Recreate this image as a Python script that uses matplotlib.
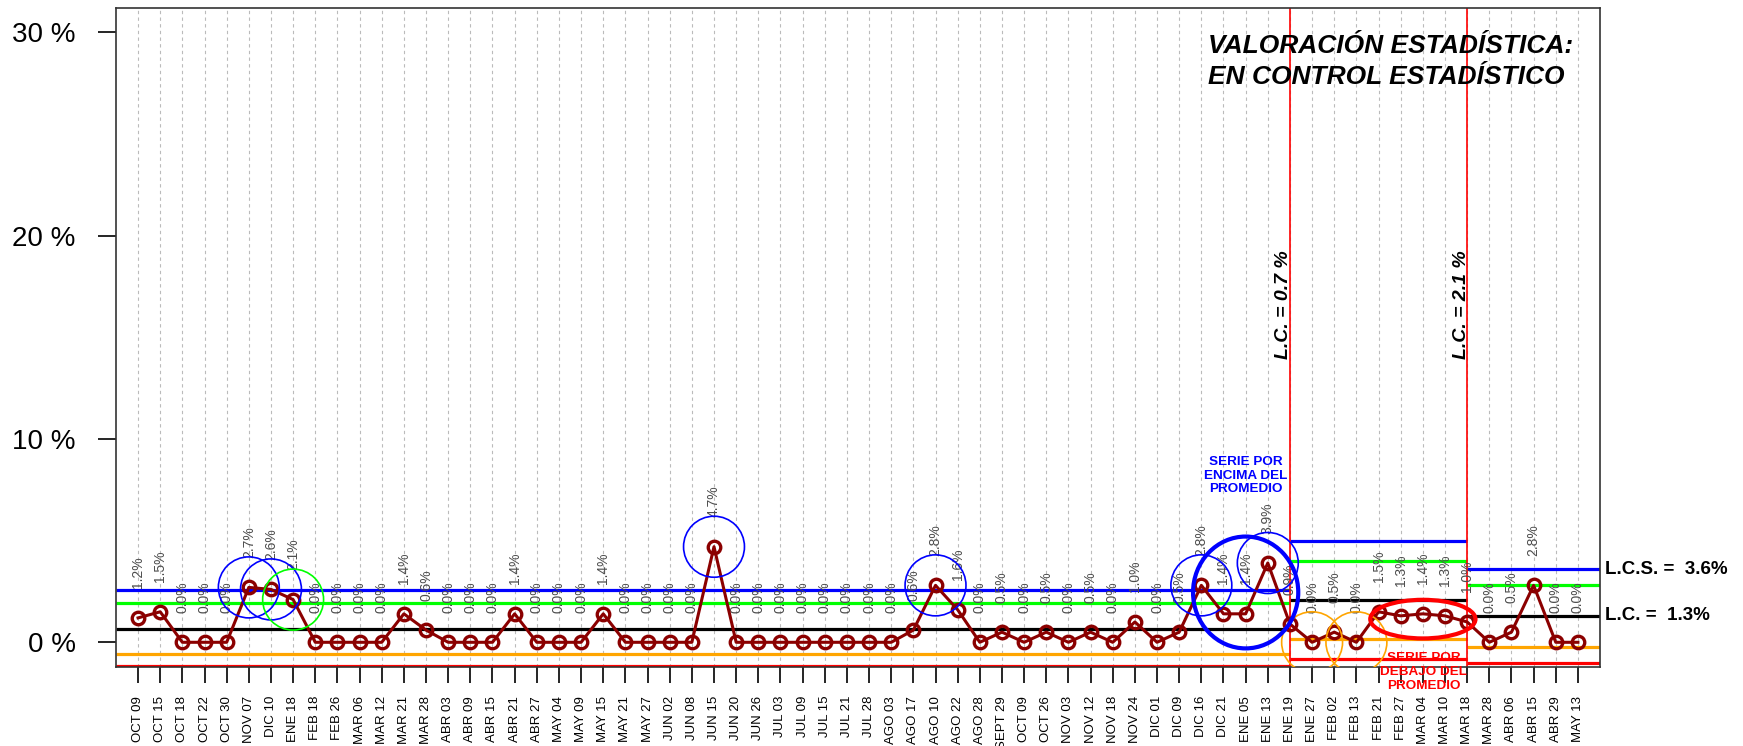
import numpy as np
import matplotlib.pyplot as plt
from matplotlib.patches import Ellipse
from matplotlib.transforms import blended_transform_factory

plt.rcParams['font.family'] = ['Liberation Sans', 'DejaVu Sans']

# datos de la serie
fechas = ['OCT 09', 'OCT 15', 'OCT 18', 'OCT 22', 'OCT 30', 'NOV 07', 'DIC 10', 'ENE 18',
          'FEB 18', 'FEB 26', 'MAR 06', 'MAR 12', 'MAR 21', 'MAR 28', 'ABR 03', 'ABR 09',
          'ABR 15', 'ABR 21', 'ABR 27', 'MAY 04', 'MAY 09', 'MAY 15', 'MAY 21', 'MAY 27',
          'JUN 02', 'JUN 08', 'JUN 15', 'JUN 20', 'JUN 26', 'JUL 03', 'JUL 09', 'JUL 15',
          'JUL 21', 'JUL 28', 'AGO 03', 'AGO 17', 'AGO 10', 'AGO 22', 'AGO 28', 'SEPT 29',
          'OCT 09', 'OCT 26', 'NOV 03', 'NOV 12', 'NOV 18', 'NOV 24', 'DIC 01', 'DIC 09',
          'DIC 16', 'DIC 21', 'ENE 05', 'ENE 13', 'ENE 19', 'ENE 27', 'FEB 02', 'FEB 13',
          'FEB 21', 'FEB 27', 'MAR 04', 'MAR 10', 'MAR 18', 'MAR 28', 'ABR 06', 'ABR 15',
          'ABR 29', 'MAY 13']
valores = [1.2, 1.5, 0.0, 0.0, 0.0, 2.7, 2.6, 2.1,
           0.0, 0.0, 0.0, 0.0, 1.4, 0.6, 0.0, 0.0,
           0.0, 1.4, 0.0, 0.0, 0.0, 1.4, 0.0, 0.0,
           0.0, 0.0, 4.7, 0.0, 0.0, 0.0, 0.0, 0.0,
           0.0, 0.0, 0.0, 0.6, 2.8, 1.6, 0.0, 0.5,
           0.0, 0.5, 0.0, 0.5, 0.0, 1.0, 0.0, 0.5,
           2.8, 1.4, 1.4, 3.9, 0.9, 0.0, 0.5, 0.0,
           1.5, 1.3, 1.4, 1.3, 1.0, 0.0, 0.5, 2.8,
           0.0, 0.0]

# limites por fase (inicio, fin en posicion del eje x)
fase_ini = [-1, 52, 60]
fase_fin = [52, 60, 66]
lc = [0.65, 2.08, 1.3]
lcs = [2.55, 4.98, 3.6]
sup2 = [1.92, 4.02, 2.83]
inf2 = [-0.56, 0.15, -0.22]
lci = [-1.18, -0.8, -1.0]
lc_texto = ['L.C. = 0.7 %', 'L.C. = 2.1 %']

# puntos señalados con circulos
circ_azul = [5, 6, 26, 36, 48, 51]
circ_verde = [7]
circ_naranja = [53, 55]

x = np.arange(len(valores))
y = np.array(valores)

fig = plt.figure(figsize=(17.43, 7.46), dpi=100)
ax = fig.add_axes([0.0665, 0.1063, 0.8515, 0.8832])

# rejilla vertical punteada
for xi in x:
    ax.axvline(xi, color='#bbbbbb', lw=0.8, ls=(0, (3, 3)), zorder=0)

# lineas de control por fase
for i in range(3):
    a, b = fase_ini[i], fase_fin[i]
    ax.hlines(lcs[i], a, b, color='#0000ff', lw=2.3, zorder=2)
    ax.hlines(sup2[i], a, b, color='#00ff00', lw=2.3, zorder=2)
    ax.hlines(lc[i], a, b, color='black', lw=2.3, zorder=2)
    ax.hlines(inf2[i], a, b, color='#ffa500', lw=2.3, zorder=2)
    ax.hlines(lci[i], a, b, color='#ff0000', lw=2.3, zorder=2)

# cambios de fase
for xv in fase_ini[1:]:
    ax.axvline(xv, color='#ff0000', lw=1.2, zorder=2)

# serie
ax.plot(x, y, color='#8b0000', lw=2.2, marker='o', ms=9, mew=2.4,
        mfc='none', mec='#8b0000', zorder=4)

for xi, v in zip(x, y):
    ax.text(xi, v + 1.45, f'{v:.1f}%', rotation=90, ha='center', va='bottom',
            fontsize=10, color='#4d4d4d', zorder=3)

# circulos de señalamiento
dx, dy = 2.75, 3.0
for idx in circ_azul:
    ax.add_patch(Ellipse((idx, valores[idx]), dx, dy, fill=False, ec='#0000ff', lw=1.2, zorder=5))
for idx in circ_verde:
    ax.add_patch(Ellipse((idx, valores[idx]), dx, dy, fill=False, ec='#00ff00', lw=1.2, zorder=5))
for idx in circ_naranja:
    ax.add_patch(Ellipse((idx, valores[idx]), dx, dy, fill=False, ec='#ffa500', lw=1.2, zorder=5))
ax.add_patch(Ellipse((50, 2.45), 4.75, 5.5, fill=False, ec='#0000ff', lw=3, zorder=5))
ax.add_patch(Ellipse((58, 1.14), 4.75, 1.9, fill=False, ec='#ff0000', lw=3, zorder=5))

ax.text(50, 8.2, 'SERIE POR\nENCIMA DEL\nPROMEDIO', ha='center', va='center',
        fontsize=9.7, fontweight='bold', color='#0000ff', zorder=6)
ax.text(58.05, -1.45, 'SERIE POR\nDEBAJO DEL\nPROMEDIO', ha='center', va='center',
        fontsize=9.7, fontweight='bold', color='#ff0000', zorder=6, clip_on=False)

for xv, t in zip(fase_ini[1:], lc_texto):
    ax.text(xv - 0.27, 16.6, t, rotation=90, ha='center', va='center',
            fontsize=14, fontweight='bold', style='italic', zorder=6)

ax.text(0.7355, 0.96, 'VALORACIÓN ESTADÍSTICA:\nEN CONTROL ESTADÍSTICO',
        transform=ax.transAxes, ha='left', va='top', fontsize=19, linespacing=1.38,
        fontweight='bold', style='italic', zorder=6)

trans = blended_transform_factory(ax.transAxes, ax.transData)
ax.text(1.003, lcs[2], 'L.C.S. =  3.6%', transform=trans, ha='left', va='center',
        fontsize=13.5, fontweight='bold', clip_on=False)
ax.text(1.003, lc[2], 'L.C. =  1.3%', transform=trans, ha='left', va='center',
        fontsize=13.5, fontweight='bold', clip_on=False)

ax.set_xlim(-1, 66)
ax.set_ylim(-1.2, 31.2)
ax.set_xticks(x)
ax.set_xticklabels(fechas, rotation=90, fontsize=9.5)
ax.set_yticks([0, 10, 20, 30])
ax.set_yticklabels(['0 %', '10 %', '20 %', '30 %'], fontsize=20)
ax.tick_params(axis='x', length=11.5, width=1.2, pad=9.5)
ax.tick_params(axis='y', length=13, width=1.2, pad=16)
for s in ax.spines.values():
    s.set_color('#333333')
    s.set_linewidth(1.2)

fig.savefig('out.png', dpi=100)
